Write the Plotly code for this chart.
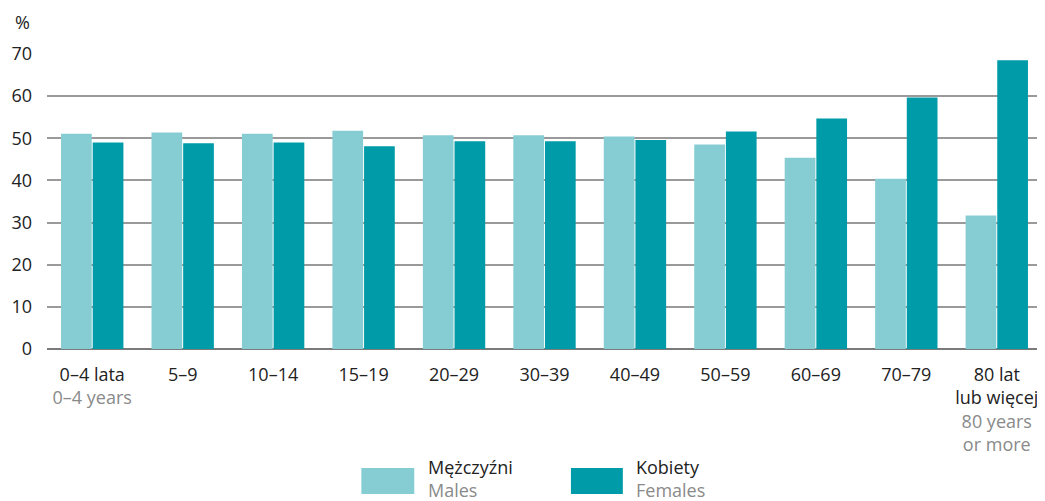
import plotly.graph_objects as go

categories_pl = ["0–4 lata", "5–9", "10–14", "15–19", "20–29", "30–39", "40–49", "50–59", "60–69", "70–79", "80 lat<br>lub więcej"]
categories_en = ["0–4 years", "", "", "", "", "", "", "", "", "", "80 years<br>or more"]
males = [51.1, 51.4, 51.1, 51.8, 50.7, 50.7, 50.4, 48.5, 45.4, 40.4, 31.7]
females = [49.0, 48.8, 49.0, 48.1, 49.3, 49.3, 49.6, 51.6, 54.7, 59.7, 68.5]
y_ticks = [0, 10, 20, 30, 40, 50, 60, 70]

C_M = "#86CDD3"
C_F = "#009BA8"
GRAY = "#8a8a8a"
FONT = "Open Sans"

tick_text = []
for pl, en in zip(categories_pl, categories_en):
    if en:
        en_html = "<br>".join(f"<span style='color:{GRAY}'>{p}</span>" for p in en.split("<br>"))
        tick_text.append(pl + "<br>" + en_html)
    else:
        tick_text.append(pl)

x_idx = list(range(len(categories_pl)))

fig = go.Figure()
fig.add_bar(x=x_idx, y=males, name="Mężczyźni", marker_color=C_M, marker_line_width=0)
fig.add_bar(x=x_idx, y=females, name="Kobiety", marker_color=C_F, marker_line_width=0)

# page body has an 8px margin, so the figure is sized/offset to compensate
fig.update_layout(
    width=1037, height=493,
    margin=dict(l=37, r=3, t=46, b=152),
    barmode="group", bargap=0.30, bargroupgap=0.03,
    plot_bgcolor="white", paper_bgcolor="white",
    showlegend=False,
    font=dict(family=FONT, size=18, color="#222222"),
)
fig.update_xaxes(
    tickmode="array", tickvals=x_idx, ticktext=tick_text,
    range=[-0.5, len(categories_pl) - 0.5],
    showgrid=False, zeroline=False, showline=False, ticks="",
    ticklabelstandoff=13,
    tickfont=dict(family=FONT, size=18, color="#222222"),
)
fig.update_yaxes(
    range=[0, 70], tickvals=y_ticks, showgrid=True, gridcolor="#9a9a9a", gridwidth=1.5,
    zeroline=True, zerolinecolor="#7a7a7a", zerolinewidth=2,
    ticks="", ticklabelstandoff=14,
    tickfont=dict(family=FONT, size=18, color="#222222"),
)

ph = 295.0
pw = 997.0
def px_x(x):
    return (x - 45) / pw
def px_y(y):
    return (349.0 - y) / ph

fig.add_annotation(text="%", xref="paper", yref="paper", x=px_x(11), y=px_y(22),
                   xanchor="left", yanchor="middle", showarrow=False,
                   font=dict(family=FONT, size=18, color="#222222"))

legend_items = [("Mężczyźni", "Males", C_M, 360, 413, 425),
                ("Kobiety", "Females", C_F, 570, 622, 633)]
for pl, en, col, x0, x1, tx in legend_items:
    fig.add_shape(type="rect", xref="paper", yref="paper",
                  x0=px_x(x0), x1=px_x(x1), y0=px_y(494), y1=px_y(468),
                  fillcolor=col, line_width=0)
    fig.add_annotation(text=f"{pl}<br><span style='color:{GRAY}'>{en}</span>",
                       xref="paper", yref="paper", x=px_x(tx), y=px_y(453),
                       xanchor="left", yanchor="top", align="left", showarrow=False,
                       font=dict(family=FONT, size=18, color="#222222"))

fig.write_html("out.html")
